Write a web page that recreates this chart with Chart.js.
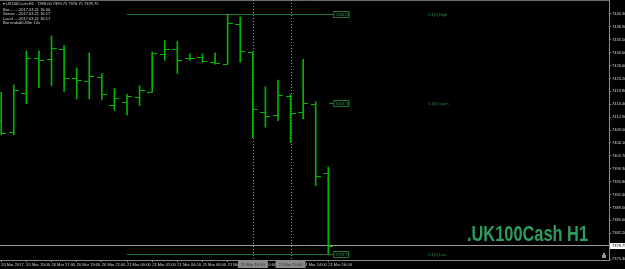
<!DOCTYPE html>
<html><head><meta charset="utf-8">
<script src="https://cdn.jsdelivr.net/npm/chart.js@4.4.0/dist/chart.umd.min.js"></script>
<style>html,body{margin:0;padding:0;background:#000;overflow:hidden}#wrap{width:625px;height:269px;position:relative}</style>
</head><body><div id="wrap"><canvas id="c"></canvas></div>
<script>
// ---- data ----
const symbol = "UK100Cash";
const period = "H1";
const barTimes = ["2017.03.20 13:00","2017.03.20 14:00","2017.03.20 15:00","2017.03.20 16:00","2017.03.20 17:00","2017.03.20 18:00","2017.03.20 19:00","2017.03.20 20:00","2017.03.20 21:00","2017.03.20 22:00",
  "2017.03.21 00:00","2017.03.21 01:00","2017.03.21 02:00","2017.03.21 03:00","2017.03.21 04:00","2017.03.21 05:00","2017.03.21 06:00","2017.03.21 07:00","2017.03.21 08:00","2017.03.21 09:00",
  "2017.03.21 10:00","2017.03.21 11:00","2017.03.21 12:00","2017.03.21 13:00","2017.03.21 14:00","2017.03.21 15:00","2017.03.21 16:00"];
const openP  = [7412.00,7408.75,7419.25,7428.50,7428.25,7431.00,7423.25,7422.50,7423.50,7416.00,7416.75,7418.25,7419.50,7429.50,7431.00,7428.50,7428.75,7427.50,7427.00,7437.50,7430.00,7414.25,7413.50,7418.50,7414.25,7416.25,7398.00];
const highP  = [7419.50,7421.50,7430.50,7430.50,7434.50,7432.00,7426.00,7430.00,7424.50,7420.50,7419.00,7421.25,7430.25,7433.25,7433.00,7429.75,7429.75,7430.00,7440.25,7439.50,7430.00,7421.00,7422.75,7419.00,7428.25,7417.00,7399.75];
const lowP   = [7408.25,7408.25,7416.50,7420.75,7421.25,7419.75,7417.75,7417.75,7417.50,7414.75,7413.50,7416.00,7419.50,7428.00,7424.50,7428.00,7427.50,7427.00,7427.00,7427.50,7407.50,7410.25,7412.00,7406.25,7412.50,7394.75,7376.75];
const closeP = [7408.50,7420.00,7428.50,7428.00,7431.25,7423.25,7422.75,7423.75,7419.00,7418.00,7418.50,7420.00,7429.75,7430.75,7428.00,7428.50,7427.75,7427.25,7437.75,7430.25,7415.00,7413.00,7418.75,7414.00,7416.50,7397.25,7378.75];

const xTickIdx  = [0,2,4,6,8,10,12,14,16,18,20,22,24,26];
const xTickText = ["20 Mar 2017","20 Mar 15:00","20 Mar 17:00","20 Mar 19:00","20 Mar 21:00","21 Mar 00:00","21 Mar 02:00","21 Mar 04:00","21 Mar 06:00","21 Mar 08:00","21 Mar 10:00","21 Mar 12:00","21 Mar 14:00","21 Mar 16:00"];
const yTickVals = [7440.30,7436.90,7433.50,7430.00,7426.60,7423.20,7419.80,7416.40,7412.90,7409.50,7406.10,7402.70,7399.30,7395.80,7392.40,7389.00,7385.60,7382.20,7375.30];

const dayStartIdx = 10;
const dayLevelNames  = ["D1[0] High","D1[0] Open","D1[0] Low"];
const dayLevelValues = [7440.25,7416.75,7376.75];
const vMarkIdx  = [20,23];
const vMarkText = ["21 Mar 10:00","21 Mar 13:00"];
const infoNames  = ["Bar.........","Server.....","Local.......","Bar ends.."];
const infoValues = ["2017.03.21 16:00","2017.03.21 16:17","2017.03.21 16:17","00:43m 14s"];

// ---- styles ----
const GREEN = '#00b400';
const LVL = '#1e7a34';
const GREY = '#8a8a8a';
const TXT = '#d6d6d6';
const FONT = '"Liberation Sans", Arial, sans-serif';

function tickCanvas(side){
  const c = document.createElement('canvas'); c.width = 10; c.height = 1;
  const g = c.getContext('2d'); g.fillStyle = GREEN;
  if (side === 'L') g.fillRect(0,0,5,1); else g.fillRect(5,0,5,1);
  return c;
}
const leftTick = tickCanvas('L'), rightTick = tickCanvas('R');

const idx = barTimes.map((_, i) => i);
const last = idx.length - 1;

const overlay = {
  id: 'overlay',
  beforeDraw(chart){
    const {ctx, width, height} = chart;
    ctx.save(); ctx.fillStyle = '#000'; ctx.fillRect(0,0,width,height); ctx.restore();
  },
  beforeDatasetsDraw(chart){
    const {ctx, chartArea:a, scales:{x, y}} = chart;
    ctx.save();
    ctx.strokeStyle = '#6a6a6a'; ctx.lineWidth = 1;
    ctx.beginPath(); ctx.moveTo(a.left, a.top + 0.5); ctx.lineTo(a.right, a.top + 0.5); ctx.stroke();
    ctx.strokeStyle = '#8c8c8c'; ctx.setLineDash([1,2]);
    vMarkIdx.forEach(v => {
      const px = Math.round(x.getPixelForValue(v)) + 0.5;
      ctx.beginPath(); ctx.moveTo(px, a.top); ctx.lineTo(px, a.bottom); ctx.stroke();
    });
    ctx.setLineDash([]);
    const by = Math.round(y.getPixelForValue(closeP[last])) - 0.5;
    ctx.strokeStyle = '#9a9a9a';
    ctx.beginPath(); ctx.moveTo(a.left, by); ctx.lineTo(a.right, by); ctx.stroke();
    const xs = x.getPixelForValue(dayStartIdx);
    const xl = x.getPixelForValue(last);
    dayLevelValues.forEach((val, k) => {
      const py = Math.round(y.getPixelForValue(val)) + 0.5;
      ctx.strokeStyle = LVL; ctx.lineWidth = 1.2;
      ctx.beginPath();
      ctx.moveTo(k === 1 ? xl + 1 : xs, py); ctx.lineTo(xl + 5, py); ctx.stroke();
      ctx.lineWidth = 1; ctx.fillStyle = '#000';
      ctx.fillRect(xl + 5, py - 3.5, 16, 7);
      ctx.strokeRect(xl + 5.5, py - 3, 15, 6);
      ctx.fillStyle = '#3a9a55'; ctx.font = '4px ' + FONT; ctx.textBaseline = 'middle'; ctx.textAlign = 'left';
      ctx.fillText(val.toFixed(2), xl + 7, py);
      ctx.fillStyle = '#2f8a48';
      ctx.fillText(dayLevelNames[k], xl + 100, py);
    });
    const wm = '.' + symbol + ' ' + period;
    ctx.font = 'bold 22px "Liberation Sans Narrow", "Liberation Sans", Arial, sans-serif';
    const w = ctx.measureText(wm).width;
    ctx.fillStyle = '#2e9b5f'; ctx.textBaseline = 'alphabetic'; ctx.textAlign = 'left';
    ctx.save(); ctx.translate(467, 241); ctx.scale(121 / w, 1); ctx.fillText(wm, 0, 0); ctx.restore();
    ctx.font = '4px ' + FONT; ctx.fillStyle = TXT; ctx.textBaseline = 'middle';
    const hdr = '\u25BE ' + symbol + ',' + period + '   ' + [openP[last],highP[last],lowP[last],closeP[last]].map(v=>v.toFixed(2)).join(' ');
    ctx.fillText(hdr, 3, 4);
    const iy = [9.5, 14, 18.5, 23];
    infoNames.forEach((n, k) => { ctx.fillText(n, 3, iy[k]); ctx.fillText(infoValues[k], 19, iy[k]); });
    ctx.fillStyle = '#9a9a9a'; ctx.fillRect(a.right - 6, a.bottom - 7, 2, 2); ctx.fillRect(a.right - 7, a.bottom - 5, 4, 3);
    ctx.restore();
  },
  afterDraw(chart){
    const {ctx, chartArea:a, scales:{x, y}} = chart;
    ctx.save();
    ctx.font = '4px ' + FONT; ctx.textBaseline = 'middle'; ctx.textAlign = 'center';
    vMarkIdx.forEach((v, k) => {
      const px = x.getPixelForValue(v);
      ctx.fillStyle = '#8a8a8a'; ctx.fillRect(px - 15, a.bottom + 1, 30, 7);
      ctx.fillStyle = '#2a2a2a'; ctx.fillText(vMarkText[k], px, a.bottom + 4.5);
    });
    const py = y.getPixelForValue(closeP[last]);
    ctx.fillStyle = '#ffffff'; ctx.fillRect(a.right + 1, py - 3, 16, 6);
    ctx.fillStyle = '#000'; ctx.textAlign = 'left';
    ctx.fillText(closeP[last].toFixed(2), a.right + 3, py);
    ctx.restore();
  }
};

function noPad(s){ s.paddingLeft = 0; s.paddingRight = 0; s.paddingTop = 0; s.paddingBottom = 0; }

new Chart(document.getElementById('c'), {
  type: 'bar',
  data: {
    labels: barTimes,
    datasets: [
      { type: 'bar', data: idx.map(i => ({x: i, y: [lowP[i], highP[i]]})), backgroundColor: GREEN, borderWidth: 0, barThickness: 1, grouped: false, order: 2 },
      { type: 'scatter', data: idx.map(i => ({x: i, y: openP[i]})), pointStyle: leftTick, pointRadius: 3, pointHoverRadius: 3, showLine: false, order: 1, clip: false },
      { type: 'scatter', data: idx.map(i => ({x: i, y: closeP[i]})), pointStyle: rightTick, pointRadius: 3, pointHoverRadius: 3, showLine: false, order: 1, clip: false }
    ]
  },
  options: {
    responsive: true, maintainAspectRatio: false, animation: false, events: [],
    devicePixelRatio: 1,
    layout: { padding: 0, autoPadding: false },
    plugins: { legend: { display: false }, title: { display: false }, tooltip: { enabled: false } },
    scales: {
      x: {
        type: 'linear', min: -0.095, max: 48.31, offset: false,
        afterBuildTicks: s => { s.ticks = xTickIdx.map(v => ({value: v})); },
        afterFit: s => { s.height = 9; noPad(s); },
        ticks: { autoSkip: false, maxRotation: 0, minRotation: 0, align: 'start', padding: 0, color: TXT,
                 font: { size: 4, family: FONT }, callback: (v, i) => xTickText[i] },
        grid: { drawOnChartArea: false, drawTicks: true, tickLength: 2, color: GREY, offset: false },
        border: { display: true, color: GREY, width: 1 }
      },
      y: {
        position: 'right', min: 7375.05, max: 7444.01,
        afterBuildTicks: s => { s.ticks = yTickVals.map(v => ({value: v})); },
        afterFit: s => { s.width = 16; noPad(s); },
        ticks: { autoSkip: false, padding: 1, color: TXT, font: { size: 4, family: FONT },
                 callback: v => Number(v).toFixed(2) },
        grid: { drawOnChartArea: false, drawTicks: true, tickLength: 2, color: GREY },
        border: { display: true, color: GREY, width: 1 }
      }
    }
  },
  plugins: [overlay]
});
</script>
</body></html>
